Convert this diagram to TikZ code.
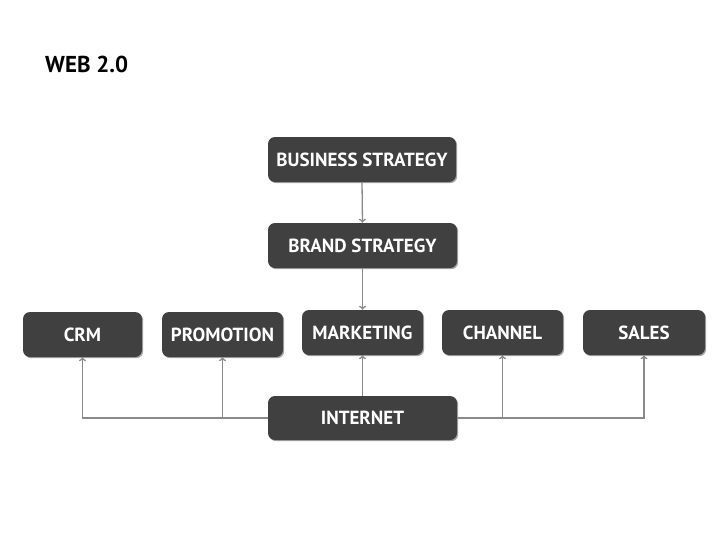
\documentclass[tikz,border=0pt]{standalone}
\usepackage{fontspec}
\setmainfont{PT Sans}
\usetikzlibrary{shadows,arrows.meta}
\definecolor{boxfill}{HTML}{404040}
\definecolor{linegray}{HTML}{8A8A8A}
\tikzset{
  box/.style={draw=none, fill=boxfill, rounded corners=7pt, text=white,
    font=\bfseries\fontsize{19}{22}\selectfont, inner sep=0pt,
    drop shadow={shadow xshift=1.2pt, shadow yshift=-1.2pt, opacity=0.35, fill=black}},
  conn/.style={draw=linegray, line width=1.3pt, -{To[length=4pt,width=7pt]}}
}
\begin{document}
\begin{tikzpicture}[x=1pt,y=-1pt]
\useasboundingbox (0,0) rectangle (728,546);
\node[anchor=base west, inner sep=0pt, font=\bfseries\fontsize{23}{26}\selectfont] (title) at (45,72) {WEB 2.0};
\node[box, minimum width=188pt, minimum height=45pt] (bs) at (362,159.5) {BUSINESS STRATEGY};
\node[box, minimum width=189pt, minimum height=45pt] (br) at (362.5,245.5) {BRAND STRATEGY};
\node[box, minimum width=119pt, minimum height=45pt] (crm) at (82.5,334.5) {CRM};
\node[box, minimum width=121pt, minimum height=45pt] (pro) at (222.5,334.5) {PROMOTION};
\node[box, minimum width=121pt, minimum height=45pt] (mkt) at (362.5,332.5) {MARKETING};
\node[box, minimum width=121pt, minimum height=45pt] (ch) at (502.5,332.5) {CHANNEL};
\node[box, minimum width=122pt, minimum height=45pt] (sal) at (644,332.5) {SALES};
\node[box, minimum width=189pt, minimum height=44pt] (int) at (362.5,418) {INTERNET};
\draw[conn] (bs.south) -- (br.north);
\draw[conn] (br.south) -- (mkt.north);
\draw[conn] (int.north) -- (mkt.south);
\draw[conn] (int.west) -- (crm.south |- int.west) -- (crm.south);
\draw[conn] (pro.south |- int.west) -- (pro.south);
\draw[conn] (int.east) -- (sal.south |- int.east) -- (sal.south);
\draw[conn] (ch.south |- int.east) -- (ch.south);
\end{tikzpicture}
\end{document}
